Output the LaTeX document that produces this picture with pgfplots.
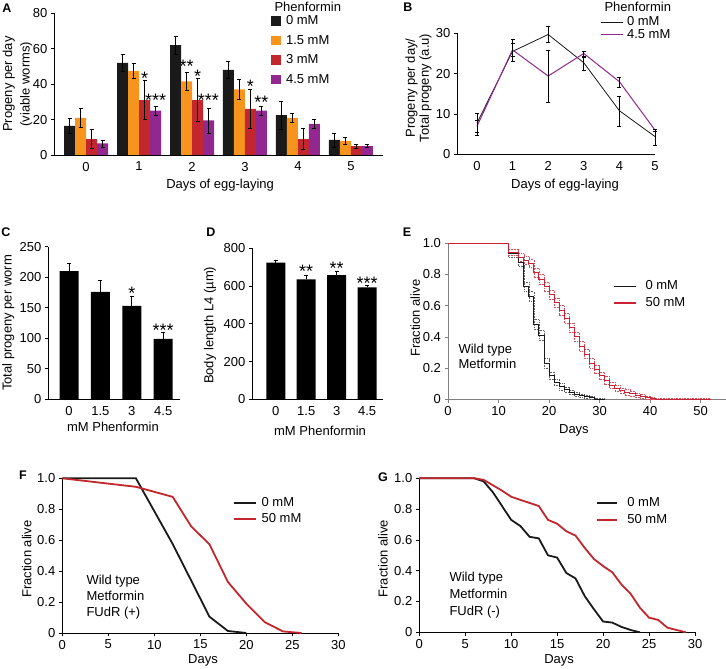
\documentclass[border=0pt]{standalone}
\usepackage{pgfplots}
\pgfplotsset{compat=1.18}
\usepackage{pgfplotstable}
\usepackage{fontspec}
\setmainfont{Liberation Sans}
\definecolor{cblack}{HTML}{1A1A1A}
\definecolor{corange}{HTML}{F7941D}
\definecolor{cred}{HTML}{C1272D}
\definecolor{cpurple}{HTML}{92278F}
\definecolor{ered}{HTML}{CC2233}
\newcommand\fs{\fontsize{13}{15}\selectfont}
\newcommand\st{\fontsize{18}{18}\selectfont}

\pgfplotstableread{
x y e
0 16.5 4
1 52 5
2 62 5
3 48 5
4 22.5 8
5 8.5 4
}\Ablack
\pgfplotstableread{
x y e
0 21 5.5
1 47.5 4.5
2 41.5 5
3 37 5.5
4 21 2.5
5 8 2
}\Aorange
\pgfplotstableread{
x y e
0 9 5.5
1 31 11
2 31 12
3 26 11
4 9 6
5 5 1.2
}\Ared
\pgfplotstableread{
x y e
0 6.5 2
1 25 2.5
2 19.5 7
3 25 2.5
4 17.5 2.5
5 5 0.8
}\Apurple

\pgfplotstableread{
x y ep em
0 7.7 2.5 3.1
1 25.5 3 2.5
2 29.7 1.9 1.9
3 22.7 1.3 1.8
4 10.8 3.5 3.8
5 4.4 1.8 2.2
}\Bblack
\pgfplotstableread{
x y ep em
0 6.9 1.5 1.5
1 25.9 1.5 1.5
2 19.4 6.3 6.6
3 25 0.6 0.6
4 18 1.1 1.4
5 6 0.3 0.3
}\Bpurple

\pgfplotstableread{
x y e
0 210 12
1 176 19
2 153 15
3 99 10
}\Cdata
\pgfplotstableread{
x y e
0 724 14
1 636 22
2 658 22
3 593 13
}\Ddata

\pgfplotstableread{
x y lo hi
0 1 1 1
12 0.935 0.91 0.96
14 0.88 0.85 0.91
15 0.72 0.69 0.75
16 0.66 0.63 0.69
17 0.48 0.45 0.51
18 0.41 0.38 0.44
19 0.23 0.20 0.26
20 0.15 0.125 0.175
21 0.11 0.09 0.13
22 0.08 0.06 0.10
23 0.06 0.045 0.075
24 0.045 0.03 0.06
25 0.03 0.018 0.045
26 0.025 0.013 0.035
27 0.015 0.006 0.025
28 0.01 0.003 0.018
29 0 0 0.008
31 0 0 0.008
}\Eblack
\pgfplotstableread{
x y lo hi
0 1 1 1
12 0.94 0.92 0.96
14 0.91 0.885 0.935
15 0.89 0.865 0.915
16 0.87 0.845 0.895
17 0.81 0.78 0.84
18 0.77 0.74 0.80
19 0.72 0.69 0.75
20 0.67 0.64 0.70
21 0.62 0.59 0.65
22 0.57 0.54 0.60
23 0.52 0.49 0.55
24 0.46 0.43 0.49
25 0.40 0.37 0.43
26 0.34 0.31 0.37
27 0.29 0.26 0.32
28 0.23 0.20 0.26
29 0.19 0.165 0.215
30 0.15 0.125 0.175
31 0.12 0.095 0.145
32 0.09 0.07 0.11
33 0.07 0.05 0.09
34 0.055 0.037 0.073
35 0.045 0.028 0.062
36 0.035 0.02 0.05
37 0.025 0.012 0.038
38 0.018 0.006 0.03
39 0.01 0.002 0.02
40 0.005 0 0.013
41 0 0 0.008
52 0 0 0.008
}\Ered

\pgfplotstableread{
x y
0 1
8 1
12 0.575
16 0.105
18 0.013
20 0
}\Fblack
\pgfplotstableread{
x y
0 1
8 0.945
12 0.88
14 0.69
16 0.573
18 0.33
20 0.19
22 0.07
24 0.01
26 0
}\Fred

\pgfplotstableread{
x y
0 1
6 1
7 0.98
8 0.91
9 0.82
10 0.73
11 0.69
12 0.62
13 0.61
14 0.50
15 0.485
16 0.385
17 0.35
18 0.235
19 0.15
20 0.07
21 0.063
22 0.035
23 0.015
24 0
}\Gblack
\pgfplotstableread{
x y
0 1
6 1
7 0.99
8 0.955
9 0.92
10 0.88
11 0.86
12 0.84
13 0.82
14 0.73
15 0.705
16 0.656
17 0.628
18 0.548
19 0.476
20 0.43
21 0.39
22 0.31
23 0.25
24 0.16
25 0.095
26 0.08
27 0.03
28 0.015
29 0
}\Gred

\pgfplotsset{
  myax/.style={scale only axis, axis lines=left, axis line style={-, black, line width=0.7pt},
    tick align=outside, major tick length=3.5pt, tick style={black, line width=0.6pt},
    tick label style={font=\fs}, label style={font=\fs},
    /pgf/number format/assume math mode=true, clip=false,
    legend cell align=left,
    every axis y label/.style={rotate=90, anchor=center, align=center, font=\fs},
    every axis x label/.style={anchor=center, font=\fs},
  },
  barleg/.style={legend image code/.code={\fill[##1] (0pt,-4.5pt) rectangle (9.5pt,5pt); \path (15pt,0pt);}},
  lineleg/.style={legend image code/.code={\draw[##1] (0pt,0pt) -- (#1,0pt); \path (#1+4pt,0pt);}},
  legsty/.style={draw=none, fill=none, inner sep=0pt, outer sep=0pt,
    nodes={inner sep=0pt, text height=9.5pt, text depth=2.5pt, font=\fs}},
  ebar/.style={error bars/.cd, y dir=both, y explicit,
    error bar style={black, line width=0.7pt},
    error mark options={rotate=90, black, mark size=2pt, line width=0.7pt}},
  ebarp/.style={error bars/.cd, y dir=plus, y explicit,
    error bar style={black, line width=0.7pt},
    error mark options={rotate=90, black, mark size=2pt, line width=0.7pt}},
}

\begin{document}
\begin{tikzpicture}
\useasboundingbox (0pt,0pt) rectangle (726pt,669pt);

% ---------------- Panel A
\node[font=\bfseries\fontsize{12.5}{12}\selectfont, anchor=center] at (7pt,661pt) {A};
\begin{axis}[myax, at={(54.3pt,514pt)}, anchor=south west, width=328.4pt, height=141.7pt,
  ymin=0, ymax=80, ytick={0,20,...,80}, xmin=-0.6, xmax=5.6, xtick={0,...,5},
  xtick style={draw=none},
  ybar=0pt, bar width=11pt, barleg,
  ylabel={Progeny per day\\(viable worms)}, 
  every axis y label/.append style={at={(axis description cs:-0.112,0.5)}, font=\fontsize{13}{17.5}\selectfont},
  xlabel={Days of egg-laying}, every axis x label/.append style={at={(axis description cs:0.505,-0.212)}},
  legend style={legsty, at={(0.66,0.985)}, anchor=north west, row sep=7.5pt},
]
\addplot[fill=cblack, draw=none, ebar] table[x=x,y=y,y error=e] {\Ablack};
\addplot[fill=corange, draw=none, ebar] table[x=x,y=y,y error=e] {\Aorange};
\addplot[fill=cred, draw=none, ebar] table[x=x,y=y,y error=e] {\Ared};
\addplot[fill=cpurple, draw=none, ebar] table[x=x,y=y,y error=e] {\Apurple};
\legend{0 mM, 1.5 mM, 3 mM, 4.5 mM}
\node[font=\st, anchor=base] at (axis cs:1.104,39.7) {*};
\node[font=\st, anchor=base] at (axis cs:1.311,27.4) {***};
\node[font=\st, anchor=base] at (axis cs:1.896,46.5) {**};
\node[font=\st, anchor=base] at (axis cs:2.104,41.0) {*};
\node[font=\st, anchor=base] at (axis cs:2.311,27.4) {***};
\node[font=\st, anchor=base] at (axis cs:3.104,35.0) {*};
\node[font=\st, anchor=base] at (axis cs:3.311,26.5) {**};
\end{axis}
\node[font=\fs, anchor=west] at (271pt,662pt) {Phenformin};

% ---------------- Panel B
\node[font=\bfseries\fontsize{12.5}{12}\selectfont, anchor=center] at (408pt,662pt) {B};
\begin{axis}[myax, at={(457.3pt,514.7pt)}, anchor=south west, width=197.7pt, height=121pt,
  ymin=0, ymax=30, ytick={0,10,20,30}, xmin=-0.55, xmax=5, xtick={0,...,5},
  xtick style={draw=none}, lineleg=22pt,
  ylabel={Progeny per day/\\Total progeny (a.u)},
  every axis y label/.append style={at={(axis description cs:-0.196,0.548)}, font=\fontsize{13}{14}\selectfont},
  xlabel={Days of egg-laying}, every axis x label/.append style={at={(axis description cs:0.545,-0.254)}},
  legend style={legsty, at={(0.722,1.14)}, anchor=north west, row sep=0.5pt},
]
\addplot[cblack, line width=0.8pt, ebar] table[x=x,y=y,y error plus=ep,y error minus=em] {\Bblack};
\addplot[cpurple, line width=1pt, ebar] table[x=x,y=y,y error plus=ep,y error minus=em] {\Bpurple};
\legend{0 mM, 4.5 mM}
\end{axis}
\node[font=\fs, anchor=west] at (601pt,662pt) {Phenformin};

% ---------------- Panel C
\node[font=\bfseries\fontsize{12.5}{12}\selectfont, anchor=center] at (6pt,437pt) {C};
\begin{axis}[myax, at={(48.3pt,269.7pt)}, anchor=south west, width=131.7pt, height=152.6pt,
  ymin=0, ymax=250, ytick={0,50,...,250}, xmin=-0.66, xmax=3.535, xtick={0,...,3},
  xticklabels={0,1.5,3,4.5}, xtick style={draw=none},
  ybar, bar width=19pt,
  ylabel={Total progeny per worm},
  every axis y label/.append style={at={(axis description cs:-0.304,0.5)}},
  xlabel={mM Phenformin}, every axis x label/.append style={at={(axis description cs:0.491,-0.18)}},
]
\addplot[fill=black, draw=none, ebarp] table[x=x,y=y,y error=e] {\Cdata};
\node[font=\st, anchor=base] at (axis cs:2,163) {*};
\node[font=\st, anchor=base] at (axis cs:3,103) {***};
\end{axis}

% ---------------- Panel D
\node[font=\bfseries\fontsize{12.5}{12}\selectfont, anchor=center] at (211pt,437pt) {D};
\begin{axis}[myax, at={(252.3pt,269.7pt)}, anchor=south west, width=131pt, height=151pt,
  ymin=0, ymax=800, ytick={0,200,...,800}, xmin=-0.77, xmax=3.53, xtick={0,...,3},
  xticklabels={0,1.5,3,4.5}, xtick style={draw=none},
  ybar, bar width=19pt,
  ylabel={Body length L4 (µm)},
  every axis y label/.append style={at={(axis description cs:-0.323,0.49)}},
  xlabel={mM Phenformin}, every axis x label/.append style={at={(axis description cs:0.517,-0.208)}},
]
\addplot[fill=black, draw=none, ebarp] table[x=x,y=y,y error=e] {\Ddata};
\node[font=\st, anchor=base] at (axis cs:1,643) {**};
\node[font=\st, anchor=base] at (axis cs:2,660) {**};
\node[font=\st, anchor=base] at (axis cs:3,581) {***};
\end{axis}

% ---------------- Panel E
\node[font=\bfseries\fontsize{12.5}{12}\selectfont, anchor=center] at (407pt,437pt) {E};
\begin{axis}[myax, at={(448pt,269.7pt)}, anchor=south west, width=278pt, height=156pt,
  axis line style={-, gray, line width=0.8pt}, tick style={gray, line width=0.6pt},
  ymin=0, ymax=1, ytick={0,0.2,...,1}, yticklabels={0,0.2,0.4,0.6,0.8,1.0},
  xmin=0, xmax=55, xtick={0,10,...,50},
  ylabel={Fraction alive},
  every axis y label/.append style={at={(axis description cs:-0.118,0.52)}},
  xlabel={Days}, every axis x label/.append style={at={(axis description cs:0.453,-0.197)}},
  legend style={legsty, at={(0.594,0.762)}, anchor=north west, row sep=4.5pt},
  legend image code/.code={\draw[#1, line width=1.8pt] (0pt,0pt) -- (22pt,0pt); \path (31pt,0pt);},
]
\addplot[cblack!70, line width=0.6pt, densely dotted, const plot, forget plot] table[x=x,y=hi] {\Eblack};
\addplot[cblack!70, line width=0.6pt, densely dotted, const plot, forget plot] table[x=x,y=lo] {\Eblack};
\addplot[ered!80, line width=0.6pt, densely dotted, const plot, forget plot] table[x=x,y=hi] {\Ered};
\addplot[ered!80, line width=0.6pt, densely dotted, const plot, forget plot] table[x=x,y=lo] {\Ered};
\addplot[cblack, line width=1pt, const plot] table[x=x,y=y] {\Eblack};
\addplot[ered, line width=1pt, const plot] table[x=x,y=y] {\Ered};
\legend{0 mM, 50 mM}
\end{axis}
\node[font=\fs, anchor=west, align=left] at (455pt,312.5pt) {Wild type\\Metformin};

% ---------------- Panel F
\node[font=\bfseries\fontsize{12.5}{12}\selectfont, anchor=center] at (23pt,194pt) {F};
\begin{axis}[myax, at={(62.3pt,36pt)}, anchor=south west, width=276pt, height=154.7pt,
  ymin=0, ymax=1, ytick={0,0.2,...,1}, yticklabels={0,0.2,0.4,0.6,0.8,1.0},
  xmin=0, xmax=30, xtick={0,5,...,30},
  ylabel={Fraction alive},
  every axis y label/.append style={at={(axis description cs:-0.129,0.478)}},
  xlabel={Days}, every axis x label/.append style={at={(axis description cs:0.51,-0.175)}},
  legend style={legsty, at={(0.618,0.88)}, anchor=north west, row sep=4.5pt},
  legend image code/.code={\draw[#1] (0pt,0pt) -- (22pt,0pt); \path (27pt,0pt);},
]
\addplot[cblack, line width=1.8pt] table[x=x,y=y] {\Fblack};
\addplot[cred, line width=1.8pt] table[x=x,y=y] {\Fred};
\legend{0 mM, 50 mM}
\end{axis}
\node[font=\fontsize{13}{16}\selectfont, anchor=west, align=left] at (83pt,71.8pt) {Wild type\\Metformin\\FUdR (+)};

% ---------------- Panel G
\node[font=\bfseries\fontsize{12.5}{12}\selectfont, anchor=center] at (383pt,192pt) {G};
\begin{axis}[myax, at={(419.3pt,36.7pt)}, anchor=south west, width=275.7pt, height=154pt,
  ymin=0, ymax=1, ytick={0,0.2,...,1}, yticklabels={0,0.2,0.4,0.6,0.8,1.0},
  xmin=0, xmax=30, xtick={0,5,...,30},
  ylabel={Fraction alive},
  every axis y label/.append style={at={(axis description cs:-0.132,0.478)}},
  xlabel={Days}, every axis x label/.append style={at={(axis description cs:0.507,-0.18)}},
  legend style={legsty, at={(0.643,0.88)}, anchor=north west, row sep=5pt},
  legend image code/.code={\draw[#1] (0pt,0pt) -- (20pt,0pt); \path (29pt,0pt);},
]
\addplot[cblack, line width=1.8pt] table[x=x,y=y] {\Gblack};
\addplot[cred, line width=1.8pt] table[x=x,y=y] {\Gred};
\legend{0 mM, 50 mM}
\end{axis}
\node[font=\fontsize{13}{17}\selectfont, anchor=west, align=left] at (446pt,73.7pt) {Wild type\\Metformin\\FUdR (-)};

\end{tikzpicture}
\end{document}
